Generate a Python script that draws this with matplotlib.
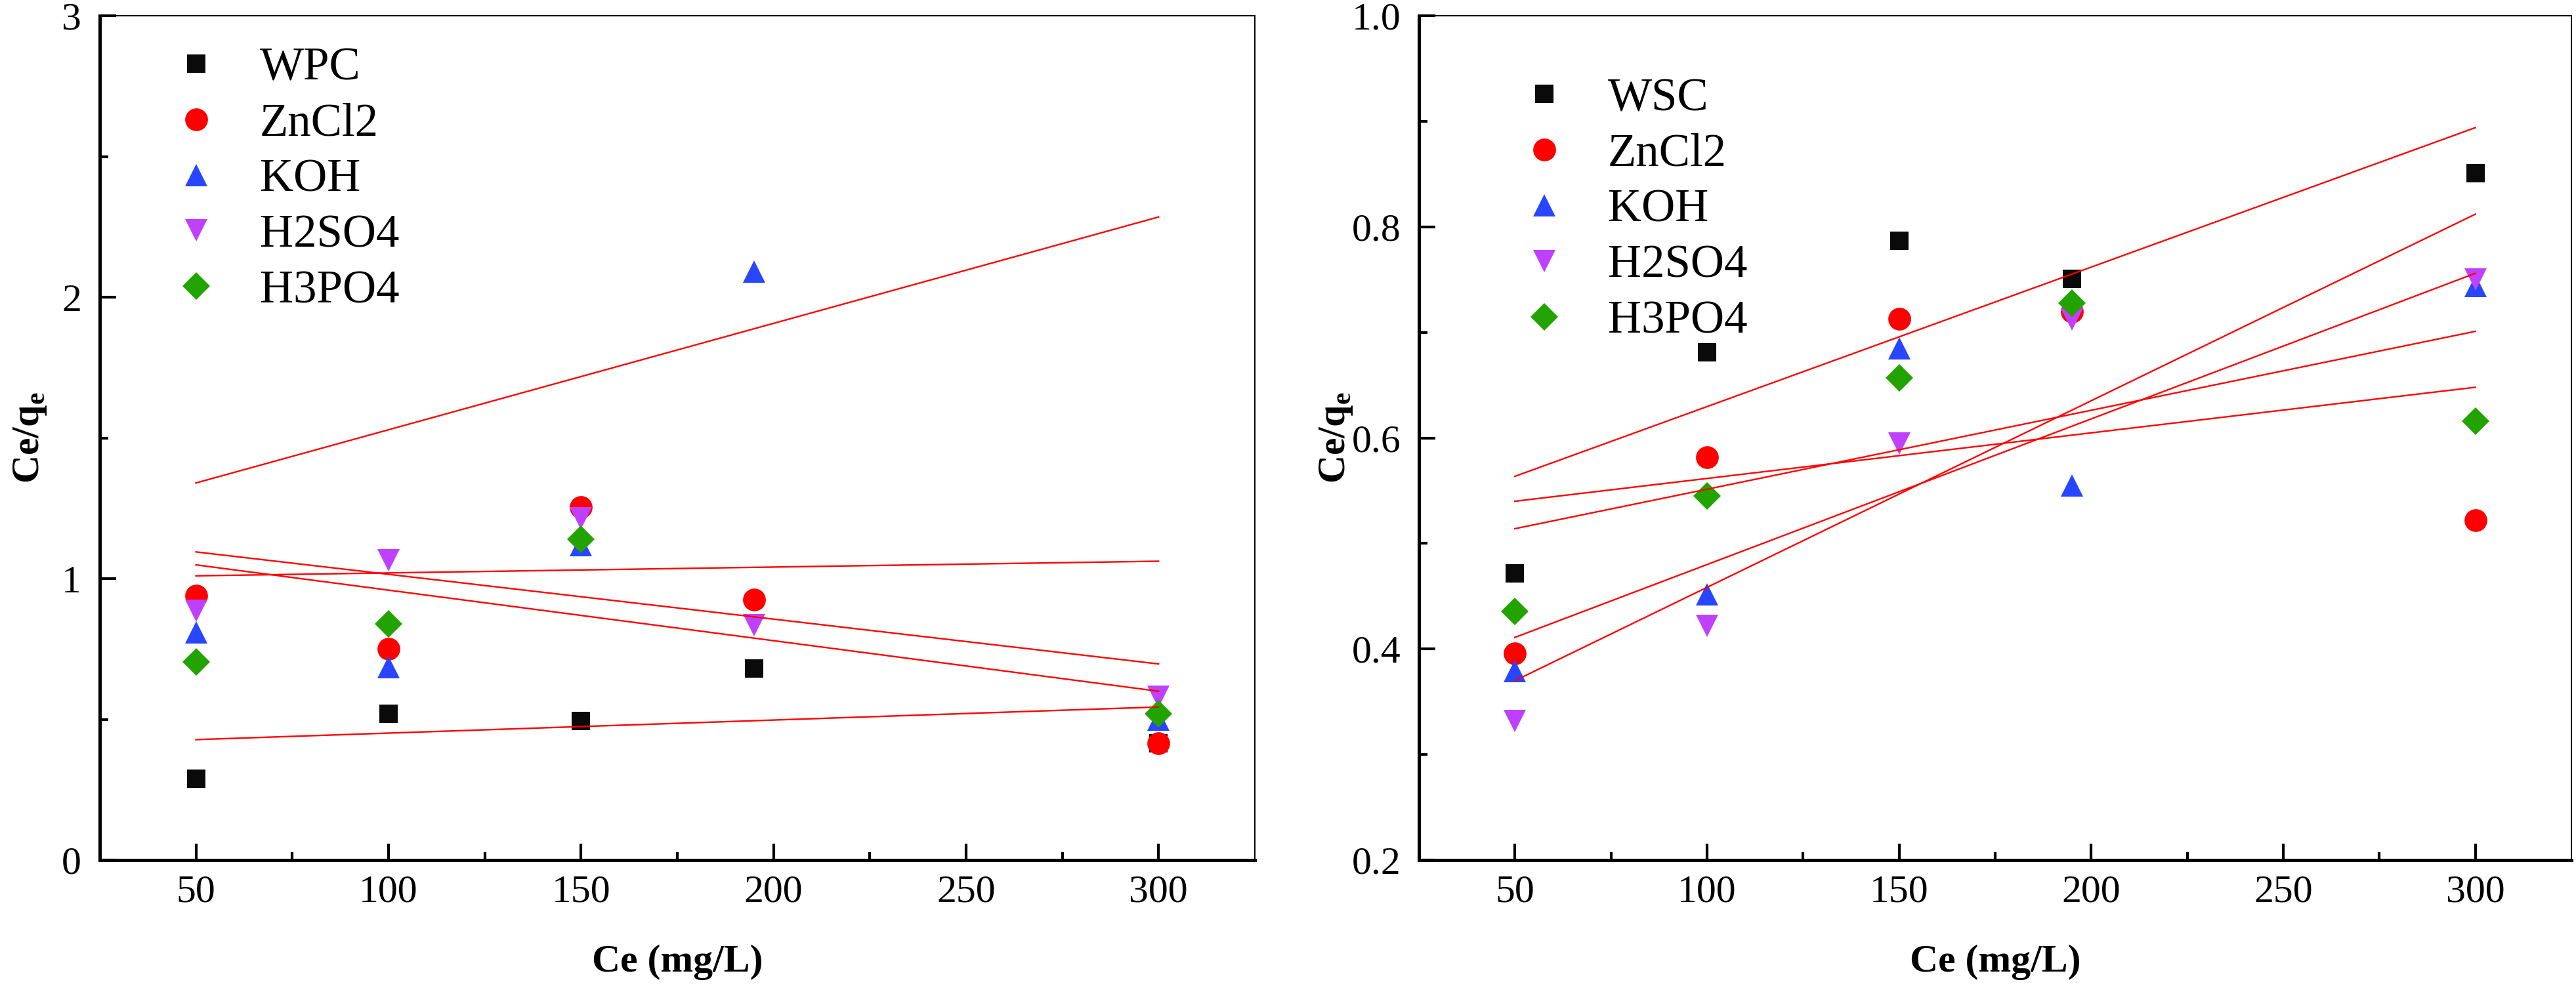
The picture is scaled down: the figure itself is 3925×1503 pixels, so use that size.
import numpy as np
import matplotlib
matplotlib.use("Agg")
import matplotlib.pyplot as plt
from matplotlib.ticker import FixedLocator

plt.rcParams['font.family'] = ['Liberation Serif', 'DejaVu Serif']
plt.rcParams['mathtext.fontset'] = 'custom'
plt.rcParams['mathtext.rm'] = 'Liberation Serif'
plt.rcParams['mathtext.bf'] = 'Liberation Serif:bold'

# Ce values (mg/L)
ce = [50, 100, 150, 195, 300]

# left panel: WPC series
left_names = ["WPC", "ZnCl2", "KOH", "H2SO4", "H3PO4"]
wpc = [0.29, 0.52, 0.495, 0.68, 0.415]
wpc_zncl2 = [0.94, 0.75, 1.255, 0.925, 0.415]
wpc_koh = [0.81, 0.685, 1.12, 2.09, 0.50]
wpc_h2so4 = [0.885, 1.065, 1.215, 0.835, 0.58]
wpc_h3po4 = [0.705, 0.84, 1.14, np.nan, 0.52]
# fitted lines, value at Ce=50 and Ce=300
left_fit_x = [50, 300]
left_fit_start = [1.34, 1.01, 1.095, 1.049, 0.428]
left_fit_end = [2.285, 1.062, 0.697, 0.60, 0.544]

# right panel: WSC series
right_names = ["WSC", "ZnCl2", "KOH", "H2SO4", "H3PO4"]
wsc = [0.4715, 0.681, 0.787, 0.751, 0.851]
wsc_zncl2 = [0.396, 0.582, 0.713, 0.72, 0.522]
wsc_koh = [0.379, 0.452, 0.685, 0.555, 0.744]
wsc_h2so4 = [0.332, 0.422, 0.595, 0.712, 0.75]
wsc_h3po4 = [0.4355, 0.545, 0.657, 0.7275, 0.616]
right_fit_x = [50, 300]
right_fit_start = [0.5636, 0.540, 0.514, 0.411, 0.370]
right_fit_end = [0.894, 0.648, 0.701, 0.756, 0.812]

colors = ['#0a0a0a', '#ff0000', '#2846ff', '#bf40ff', '#22a300']
markers = ['s', 'o', '^', 'v', 'D']
msizes = [20, 25, 25, 25, 21]

xticks = [50, 100, 150, 200, 250, 300]
xminor = [75, 125, 175, 225, 275]


def draw(ax, series, names, fit_x, fit_start, fit_end, ylim, yticks, yminor, ytlabels,
         ylab_x, leg_anchor):
    for vals, name, c, m, ms in zip(series, names, colors, markers, msizes):
        ax.plot(ce, vals, linestyle='none', marker=m, markersize=ms, color=c,
                markeredgewidth=0, label=name)
    for s, e in zip(fit_start, fit_end):
        ax.plot(fit_x, [s, e], color='#ff0000', linewidth=1.7, zorder=5)

    ax.set_xlim(25, 325)
    ax.set_ylim(*ylim)
    ax.xaxis.set_major_locator(FixedLocator(xticks))
    ax.xaxis.set_minor_locator(FixedLocator(xminor))
    ax.set_xticklabels([str(t) for t in xticks])
    ax.yaxis.set_major_locator(FixedLocator(yticks))
    ax.yaxis.set_minor_locator(FixedLocator(yminor))
    ax.set_yticklabels(ytlabels)
    ax.tick_params(which='both', direction='in', top=False, right=False, width=3)
    ax.tick_params(which='major', length=18)
    ax.tick_params(which='minor', length=9)
    ax.tick_params(axis='x', which='major', labelsize=43, pad=16)
    ax.tick_params(axis='y', which='major', labelsize=43, pad=20)

    ax.spines['left'].set_linewidth(3.6)
    ax.spines['bottom'].set_linewidth(3.6)
    ax.spines['top'].set_linewidth(1.4)
    ax.spines['right'].set_linewidth(1.4)

    ax.set_xlabel("Ce (mg/L)", fontsize=43, fontweight='bold')
    ax.set_ylabel(r"Ce/q$_{\mathbf{e}}$", fontsize=43, fontweight='bold')
    ax.xaxis.set_label_coords(0.5, -0.10)
    ax.yaxis.set_label_coords(ylab_x, 0.5)

    ax.legend(loc='upper left', bbox_to_anchor=leg_anchor, frameon=False,
              fontsize=51, handlelength=1.0, handletextpad=0.87,
              labelspacing=0.28, borderpad=0, borderaxespad=0)


fig = plt.figure(figsize=(39.25, 15.03), dpi=100)
ax1 = fig.add_axes([0.0387, 0.1277, 0.4484, 0.8563])
ax2 = fig.add_axes([0.5508, 0.1277, 0.4474, 0.8563])

draw(ax1, [wpc, wpc_zncl2, wpc_koh, wpc_h2so4, wpc_h3po4], left_names,
     left_fit_x, left_fit_start, left_fit_end,
     (0, 3), [0, 1, 2, 3], [0.5, 1.5, 2.5], ['0', '1', '2', '3'],
     -0.044, (0.0634, 0.963))
draw(ax2, [wsc, wsc_zncl2, wsc_koh, wsc_h2so4, wsc_h3po4], right_names,
     right_fit_x, right_fit_start, right_fit_end,
     (0.2, 1.0), [0.2, 0.4, 0.6, 0.8, 1.0], [0.3, 0.5, 0.7, 0.9],
     ['0.2', '0.4', '0.6', '0.8', '1.0'],
     -0.056, (0.0886, 0.927))

fig.savefig("out.png", dpi=100)
